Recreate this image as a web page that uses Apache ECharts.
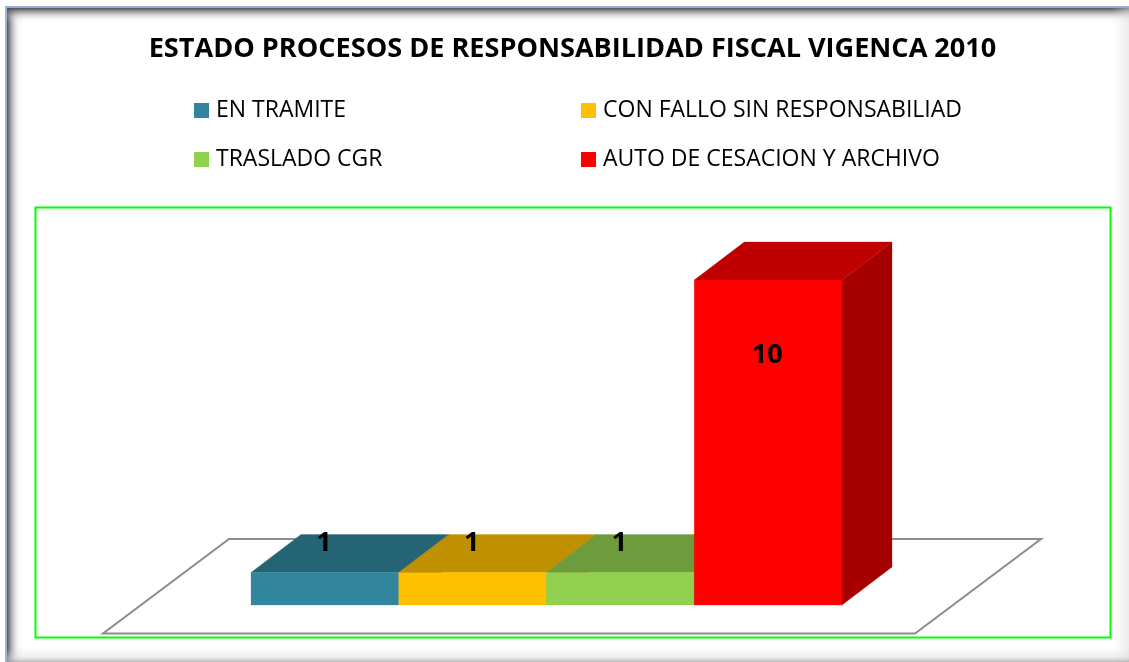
<!DOCTYPE html>
<html><head><meta charset="utf-8">
<style>html,body{margin:0;padding:0;background:#fff}#c{width:1129px;height:662px}</style>
<script src="https://cdn.jsdelivr.net/npm/echarts@6/dist/echarts.min.js"></script>
</head><body><div id="c"></div>
<script>
const titleText = 'ESTADO PROCESOS DE RESPONSABILIDAD FISCAL VIGENCA 2010';
const categories = ['EN TRAMITE', 'CON FALLO SIN RESPONSABILIAD', 'TRASLADO CGR', 'AUTO DE CESACION Y ARCHIVO'];
const values = [1, 1, 1, 10];
const frontColors = ['#31859c', '#ffc000', '#92d050', '#ff0000'];
const topColors = ['#246475', '#bf9000', '#6e9c3c', '#c00000'];
const sideColors = ['#1c4f5d', '#977200', '#577c30', '#a60000'];
const legendSpots = [[194, 99], [581, 99], [194, 148], [581, 148]];

const FONT = '"Open Sans", "Noto Sans", sans-serif';
const DX = 50, DY = -38;

function renderBar(i) {
  return function (params, api) {
    const x = api.value(0), v = api.value(1);
    const w = api.size([1, 0])[0];
    const base = api.coord([x, 0]);
    const top = api.coord([x, v]);
    const l = base[0] - w / 2, r = base[0] + w / 2, b = base[1], t = top[1];
    const poly = (points, fill) => ({ type: 'polygon', shape: { points }, style: { fill, stroke: fill, lineWidth: 0.3 } });
    const labelY = api.coord([x, 0.644 * v + 1.256])[1];
    return { type: 'group', children: [
      poly([[r, b], [r + DX, b + DY], [r + DX, t + DY], [r, t]], sideColors[i]),
      poly([[l, t], [l + DX, t + DY], [r + DX, t + DY], [r, t]], topColors[i]),
      poly([[l, b], [r, b], [r, t], [l, t]], frontColors[i]),
      { type: 'text', z2: 100, style: { x: base[0] - 1, y: labelY, text: String(v), align: 'center', verticalAlign: 'middle', fontFamily: FONT, fontWeight: 'bold', fontSize: 27, fill: '#000' } }
    ]};
  };
}

function band(x, y, w, h, x2, y2, stops) {
  return { type: 'rect', silent: true, z: 1, shape: { x, y, width: w, height: h },
    style: { fill: new echarts.graphic.LinearGradient(0, 0, x2, y2, stops.map(s => ({ offset: s[0], color: s[1] }))) } };
}
const chart = echarts.init(document.getElementById('c'), null, { renderer: 'canvas' });
chart.setOption({
  animation: false,
  backgroundColor: '#fff',
  title: { text: titleText, left: 567.5, top: 31, textAlign: 'center',
    textStyle: { fontFamily: FONT, fontWeight: 'bold', fontSize: 27.1, color: '#000' } },
  legend: categories.map((name, i) => ({
    data: [name], left: legendSpots[i][0], top: legendSpots[i][1], padding: 0, itemWidth: 15, itemHeight: 15, itemGap: 0,
    icon: 'rect', selectedMode: false,
    textStyle: { fontFamily: FONT, fontSize: 23, color: '#000', padding: [0, 0, 0, 2] }
  })),
  grid: { left: 251, width: 591, top: 280, height: 325 },
  xAxis: { type: 'category', data: categories, show: false },
  yAxis: { type: 'value', min: 0, max: 10, show: false },
  graphic: [
    band(7, 8, 18, 654, 1, 0, [[0, 'rgba(70,70,70,0.95)'], [0.25, 'rgba(120,120,120,0.6)'], [0.6, 'rgba(200,200,200,0.2)'], [1, 'rgba(255,255,255,0)']]),
    band(7, 8, 1122, 15, 0, 1, [[0, 'rgba(70,70,70,0.95)'], [0.3, 'rgba(120,120,120,0.6)'], [0.7, 'rgba(200,200,200,0.2)'], [1, 'rgba(255,255,255,0)']]),
    band(1112, 8, 17, 654, 1, 0, [[0, 'rgba(230,230,230,0)'], [1, 'rgba(215,215,215,0.5)']]),
    band(7, 648, 1122, 14, 0, 1, [[0, 'rgba(210,210,210,0)'], [0.6, 'rgba(220,220,220,0.4)'], [1, 'rgba(170,170,170,0.8)']]),
    { type: 'rect', z: 2, silent: true, shape: { x: 5, y: 6, width: 2, height: 656 }, style: { fill: '#9ab4da' } },
    { type: 'rect', z: 2, silent: true, shape: { x: 5, y: 6, width: 1124, height: 2 }, style: { fill: '#92aeda' } },
    { type: 'rect', z: 3, silent: true, shape: { x: 35.5, y: 207.5, width: 1075, height: 430 },
      style: { fill: '#fff', stroke: '#00ff00', lineWidth: 2 } },
    { type: 'polygon', z: 4, silent: true, shape: { points: [[103, 633.5], [915, 633.5], [1041, 539], [229, 539]] },
      style: { fill: '#fff', stroke: '#8c8c8c', lineWidth: 2 } }
  ],
  series: categories.map((name, i) => ({
    name, type: 'custom', z: 5 + i, clip: false, coordinateSystem: 'cartesian2d',
    itemStyle: { color: frontColors[i] },
    encode: { x: 0, y: 1 },
    renderItem: renderBar(i),
    data: [[i, values[i]]]
  }))
});
</script></body></html>
